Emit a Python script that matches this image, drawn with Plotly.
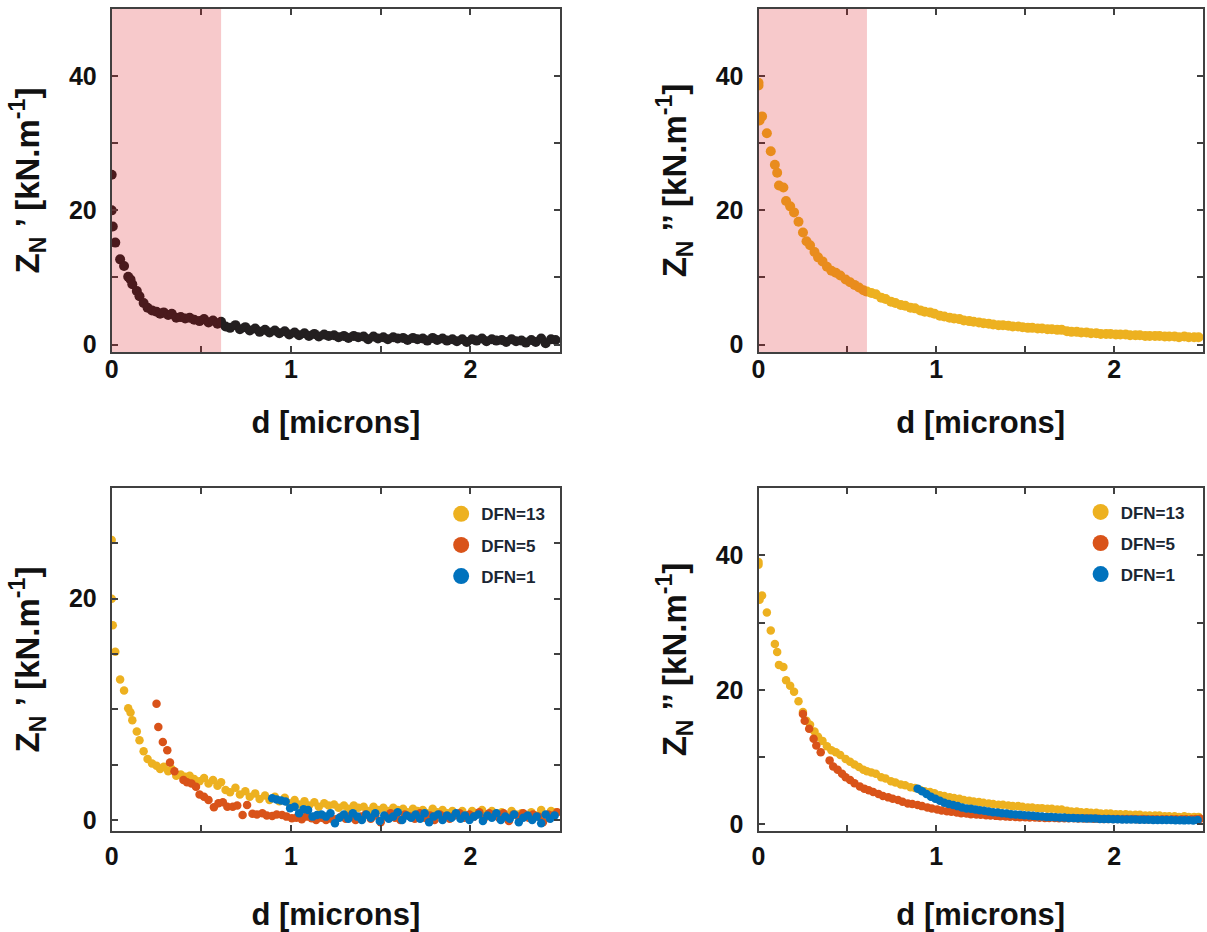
import plotly.graph_objects as go

# ---------------- data ----------------
# DFN = 13 (shared distance grid for Z' and Z'')
d13 = [0.0, 0.0, 0.006, 0.02, 0.047, 0.069, 0.092, 0.105, 0.115, 0.14,
       0.155, 0.178, 0.2, 0.225, 0.25, 0.27, 0.29, 0.315, 0.335, 0.36,
       0.385, 0.41, 0.435, 0.46, 0.49, 0.515, 0.54, 0.565, 0.59, 0.61,
       0.635, 0.66, 0.69, 0.715, 0.745, 0.77, 0.8, 0.825, 0.855, 0.88,
       0.91, 0.935, 0.965, 0.99, 1.02, 1.045, 1.075, 1.1, 1.13, 1.155,
       1.185, 1.21, 1.24, 1.265, 1.295, 1.32, 1.35, 1.375, 1.405, 1.43,
       1.46, 1.485, 1.515, 1.54, 1.57, 1.595, 1.625, 1.65, 1.68, 1.705,
       1.735, 1.76, 1.79, 1.815, 1.845, 1.87, 1.9, 1.925, 1.955, 1.98,
       2.01, 2.035, 2.065, 2.09, 2.12, 2.145, 2.175, 2.2, 2.23, 2.255,
       2.285, 2.31, 2.34, 2.365, 2.395, 2.42, 2.45, 2.475]
zr13 = [25.3, 20.0, 17.6, 15.2, 12.7, 11.7, 10.1, 9.7, 9.0, 8.0,
        7.2, 6.2, 5.5, 5.1, 4.9, 4.6, 4.8, 4.4, 4.6, 4.0,
        4.1, 3.9, 4.0, 3.7, 3.5, 3.8, 3.3, 3.6, 3.1, 3.4,
        2.7, 2.5, 2.9, 2.3, 2.6, 2.1, 2.4, 1.9, 2.2, 1.8,
        2.1, 1.7, 2.0, 1.5, 1.8, 1.4, 1.7, 1.3, 1.6, 1.2,
        1.5, 1.3, 1.4, 1.1, 1.3, 1.0, 1.3, 1.1, 1.2, 0.8,
        1.2, 0.9, 1.1, 0.8, 1.1, 0.9, 1.0, 0.7, 1.0, 0.8,
        0.9, 0.6, 1.0, 0.7, 0.9, 0.6, 0.8, 0.5, 0.8, 0.4,
        0.8, 0.6, 0.9, 0.5, 0.8, 0.6, 0.7, 0.4, 0.8, 0.5,
        0.6, 0.3, 0.7, 0.4, 0.9, 0.2, 0.8, 0.7]
zi13 = [39.0, 38.6, 33.4, 34.0, 31.5, 28.8, 26.8, 25.6, 23.7, 23.4,
        21.4, 20.6, 19.7, 18.3, 16.7, 15.4, 14.8, 13.8, 13.0, 12.4,
        11.6, 11.0, 10.7, 10.3, 9.7, 9.3, 8.9, 8.5, 8.1, 7.9,
        7.7, 7.5, 7.0, 6.8, 6.4, 6.2, 5.9, 5.8, 5.5, 5.4,
        5.1, 4.9, 4.8, 4.6, 4.3, 4.2, 4.0, 3.9, 3.8, 3.6,
        3.5, 3.4, 3.3, 3.2, 3.1, 3.0, 2.9, 2.9, 2.8, 2.7,
        2.7, 2.6, 2.5, 2.5, 2.4, 2.4, 2.3, 2.3, 2.2, 2.2,
        2.0, 1.9, 1.9, 1.8, 1.8, 1.7, 1.7, 1.6, 1.6, 1.6,
        1.5, 1.5, 1.5, 1.4, 1.4, 1.4, 1.3, 1.3, 1.3, 1.3,
        1.2, 1.2, 1.2, 1.1, 1.2, 1.1, 1.1, 1.1]

# DFN = 5
d5 = [0.25, 0.26, 0.285, 0.31, 0.325, 0.35, 0.4, 0.42, 0.445, 0.47,
      0.49, 0.515, 0.54, 0.57, 0.595, 0.62, 0.645, 0.675, 0.7, 0.73,
      0.755, 0.785, 0.81, 0.84, 0.865, 0.895, 0.92, 0.95, 0.975, 1.005,
      1.03, 1.06, 1.085, 1.115, 1.14, 1.17, 1.195, 1.225, 1.25, 1.28,
      1.305, 1.335, 1.36, 1.39, 1.415, 1.445, 1.47, 1.5, 1.525, 1.555,
      1.58, 1.61, 1.635, 1.665, 1.69, 1.72, 1.745, 1.775, 1.8, 1.83,
      1.855, 1.885, 1.91, 1.94, 1.965, 1.995, 2.02, 2.05, 2.075, 2.105,
      2.13, 2.16, 2.185, 2.215, 2.24, 2.27, 2.295, 2.325, 2.35, 2.38,
      2.405, 2.435, 2.46, 2.485]
zr5 = [10.5, 8.4, 7.05, 6.3, 5.2, 4.4, 3.6, 3.4, 3.3, 3.0,
       2.3, 2.1, 1.8, 1.15, 1.5, 1.6, 1.2, 1.2, 1.3, 0.45,
       1.35, 0.55, 0.5, 0.6, 0.4, 0.36, 0.5, 0.45, 0.3, 0.15,
       0.2, 0.06, 0.3, 0.15, 0.0, 0.2, 0.0, 0.1, 0.06, 0.3,
       0.1, 0.4, 0.0, 0.3, 0.5, 0.1, 0.4, -0.2, 0.3, 0.6,
       0.2, 0.0, 0.5, 0.3, 0.1, 0.6, 0.2, 0.4, 0.0, 0.5,
       0.3, 0.1, 0.4, 0.6, 0.2, 0.5, 0.3, 0.7, 0.1, 0.6,
       0.4, 0.2, 0.6, -0.1, 0.5, 0.3, 0.6, 0.2, 0.5, 0.3,
       -0.2, 0.5, 0.4, 0.7]
zi5 = [16.4, 15.4, 14.2, 12.7, 11.7, 10.7, 9.5, 8.6, 8.1, 7.5,
       7.0, 6.6, 6.1, 5.6, 5.3, 5.05, 4.8, 4.5, 4.2, 4.0,
       3.8, 3.6, 3.35, 3.1, 3.0, 2.85, 2.7, 2.5, 2.35, 2.2,
       2.05, 1.95, 1.85, 1.75, 1.65, 1.6, 1.5, 1.45, 1.4, 1.35,
       1.3, 1.25, 1.2, 1.15, 1.12, 1.1, 1.05, 1.05, 1.0, 1.0,
       0.98, 0.95, 0.95, 0.92, 0.9, 0.9, 0.88, 0.88, 0.85, 0.85,
       0.85, 0.82, 0.82, 0.8, 0.8, 0.8, 0.78, 0.8, 0.78, 0.78,
       0.76, 0.78, 0.75, 0.76, 0.75, 0.75, 0.74, 0.76, 0.73, 0.75,
       0.74, 0.76, 0.78, 0.82]

# DFN = 1
d1 = [0.895, 0.92, 0.945, 0.97, 0.995, 1.02, 1.045, 1.07, 1.095, 1.12,
      1.145, 1.17, 1.195, 1.22, 1.245, 1.27, 1.295, 1.32, 1.345, 1.37,
      1.395, 1.42, 1.445, 1.47, 1.495, 1.52, 1.545, 1.57, 1.595, 1.62,
      1.645, 1.67, 1.695, 1.72, 1.745, 1.77, 1.795, 1.82, 1.845, 1.87,
      1.895, 1.92, 1.945, 1.97, 1.995, 2.02, 2.045, 2.07, 2.095, 2.12,
      2.145, 2.17, 2.195, 2.22, 2.245, 2.27, 2.295, 2.32, 2.345, 2.37,
      2.395, 2.42, 2.445, 2.47]
zr1 = [1.96, 1.85, 1.75, 1.66, 1.05, 1.2, 0.6, 0.96, 0.9, 0.3,
       0.45, 0.5, 0.3, 0.6, -0.3, 0.2, 0.5, 0.1, 0.6, 0.3,
       0.0, 0.5, 0.2, 0.6, -0.1, 0.4, 0.1, 0.3, 0.7, 0.0,
       0.4, 0.2, 0.5, 0.1, 0.6, -0.2, 0.3, 0.5, 0.0, 0.4,
       0.2, 0.6, 0.1, 0.4, 0.0, 0.3, 0.5, -0.1, 0.4, 0.2,
       0.6, 0.0, 0.3, 0.1, 0.5, -0.2, 0.2, 0.4, 0.0, 0.3,
       -0.3, 0.5, 0.1, 0.4]
zi1 = [5.3, 4.9, 4.5, 4.1, 3.8, 3.5, 3.2, 3.0, 2.85, 2.7,
       2.5, 2.35, 2.3, 2.2, 2.1, 2.0, 1.9, 1.8, 1.75, 1.65,
       1.6, 1.5, 1.45, 1.4, 1.35, 1.3, 1.25, 1.2, 1.15, 1.1,
       1.1, 1.05, 1.0, 1.0, 0.95, 0.95, 0.9, 0.9, 0.85, 0.85,
       0.85, 0.8, 0.8, 0.78, 0.75, 0.75, 0.72, 0.72, 0.7, 0.7,
       0.68, 0.68, 0.66, 0.65, 0.65, 0.63, 0.62, 0.62, 0.6, 0.6,
       0.58, 0.6, 0.56, 0.62]

shade_end = 0.61          # shaded near-contact region [microns]
legend_names = ["DFN=13", "DFN=5", "DFN=1"]

# ---------------- style ----------------
BLACK = "#231f20"
YEL = "#EDB120"
RED = "#D95319"
BLUE = "#0072BD"
AX = "#404040"
FONT = "Liberation Sans, Arial, sans-serif"

fig = go.Figure()


def sc(x, y, color, xa, ya, size):
    return go.Scatter(x=x, y=y, mode="markers", xaxis=xa, yaxis=ya,
                      marker=dict(color=color, size=size, line=dict(width=0)),
                      showlegend=False, hoverinfo="x+y")


fig.add_trace(sc(d13, zr13, BLACK, "x", "y", 10))
fig.add_trace(sc(d13, zi13, YEL, "x2", "y2", 10))

for leg, xa, ya, vals in [("legend", "x3", "y3", (zr13, zr5, zr1)),
                          ("legend2", "x4", "y4", (zi13, zi5, zi1))]:
    for d, v, c in zip((d13, d5, d1), vals, (YEL, RED, BLUE)):
        fig.add_trace(sc(d, v, c, xa, ya, 8.5))
    # legend entries (no data of their own, larger symbol as in the reference)
    for c, n in zip((YEL, RED, BLUE), legend_names):
        fig.add_trace(go.Scatter(x=[None], y=[None], mode="markers", xaxis=xa, yaxis=ya,
                                 marker=dict(color=c, size=19), name=n,
                                 legend=leg, legendgroup=leg + n, showlegend=True))


def xax(domain, anchor, lab_off, title_off):
    return dict(domain=domain, anchor=anchor, range=[0, 2.5], automargin=False,
                dtick=1, tick0=0, ticks="inside", ticklen=6,
                tickwidth=1.5, tickcolor=AX, showline=True, linecolor=AX,
                linewidth=2, mirror="ticks", showgrid=False, zeroline=False,
                minor=dict(dtick=0.5, ticks="inside", ticklen=6, tickwidth=1.5,
                           tickcolor=AX, showgrid=False),
                ticklabelstandoff=lab_off,
                tickfont=dict(family=FONT, size=25, color="#111", weight="bold"),
                title=dict(text="d [microns]", standoff=title_off,
                           font=dict(family=FONT, size=31, color="#111", weight="bold")))


def yax(domain, anchor, rng, minor_dt, title):
    return dict(domain=domain, anchor=anchor, range=rng, automargin=False,
                dtick=20, tick0=0, ticks="inside", ticklen=6,
                tickwidth=1.5, tickcolor=AX, showline=True, linecolor=AX,
                linewidth=2, mirror="ticks", showgrid=False, zeroline=False,
                minor=dict(dtick=minor_dt, ticks="inside", ticklen=6, tickwidth=1.5,
                           tickcolor=AX, showgrid=False),
                ticklabelstandoff=8,
                tickfont=dict(family=FONT, size=25, color="#111", weight="bold"),
                title=dict(text=title, standoff=19,
                           font=dict(family=FONT, size=33, color="#111", weight="bold")))


W, H = 1207, 932
xl = [111.7 / W, 560 / W]
xr = [758.5 / W, 1203 / W]
yt = [1 - 352 / H, 1 - 9 / H]
yb = [1 - 831 / H, 1 - 488 / H]

t1 = "Z<sub>N</sub> ’ [kN.m<sup>-1</sup>]"
t2 = "Z<sub>N</sub> ’’ [kN.m<sup>-1</sup>]"

legfont = dict(family=FONT, size=17, color="#1a2633", weight="bold")

fig.update_layout(
    width=W, height=H, autosize=False,
    margin=dict(l=0, r=0, t=0, b=0),
    paper_bgcolor="white", plot_bgcolor="white",
    xaxis=xax(xl, "y", -6, 29), yaxis=yax(yt, "x", [-1.1, 50], 10, t1),
    xaxis2=xax(xr, "y2", -6, 29), yaxis2=yax(yt, "x2", [-1.1, 50], 10, t2),
    xaxis3=xax(xl, "y3", 2, 34), yaxis3=yax(yb, "x3", [-1, 30], 5, t1),
    xaxis4=xax(xr, "y4", 2, 34), yaxis4=yax(yb, "x4", [-1, 50], 10, t2),
    legend=dict(x=0.3655, y=0.4675, xanchor="left", yanchor="top",
                bgcolor="rgba(0,0,0,0)", itemsizing="trace", tracegroupgap=6,
                font=legfont),
    legend2=dict(x=0.8953, y=0.4696, xanchor="left", yanchor="top",
                 bgcolor="rgba(0,0,0,0)", itemsizing="trace", tracegroupgap=6,
                 font=legfont),
    showlegend=True,
)

for xa, ya in [("x", "y"), ("x2", "y2")]:
    fig.add_shape(type="rect", xref=xa, yref=f"{ya} domain", x0=0, x1=shade_end,
                  y0=0, y1=1, fillcolor="rgba(218,10,19,0.22)",
                  line=dict(width=0), layer="above")

fig.write_html("out.html",
               config={"displayModeBar": False},
               post_script="document.body.style.margin='0';"
                           "document.documentElement.style.overflow='hidden';")
